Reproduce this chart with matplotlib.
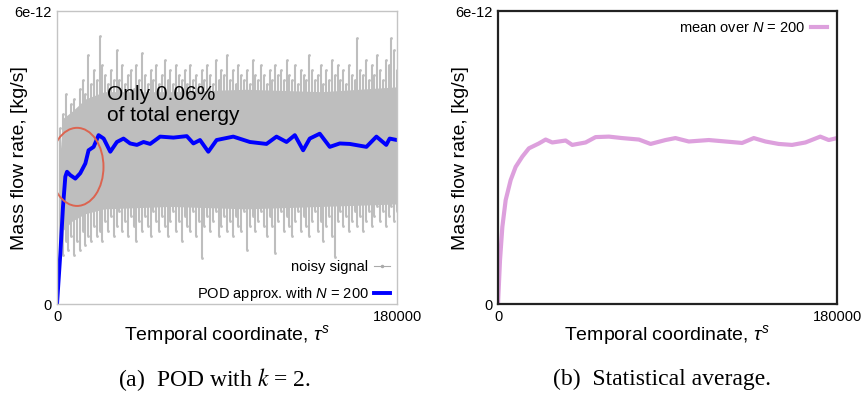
import numpy as np
import matplotlib
matplotlib.use('Agg')
import matplotlib.pyplot as plt
from matplotlib.patches import Ellipse
from matplotlib.lines import Line2D

plt.rcParams['font.family'] = ['Liberation Sans', 'DejaVu Sans']
plt.rcParams['mathtext.fontset'] = 'custom'
plt.rcParams['mathtext.rm'] = 'Liberation Sans'
plt.rcParams['mathtext.it'] = 'Liberation Sans:italic'

# noisy signal (units of 1e-12 kg/s), one sample every 1500
noisy_hi = [2.0, 3.6, 3.9, 4.3, 3.8, 4.1, 4.2, 3.9, 4.4, 4.6, 4.3,
            5.1, 4.5, 4.8, 4.6, 5.5, 4.9, 4.7, 4.5, 4.8, 4.6,
            5.2, 4.6, 4.9, 4.5, 4.7, 4.8, 4.4, 4.9, 4.6, 5.15,
            4.7, 4.5, 4.8, 4.6, 4.9, 4.5, 4.7, 5.0, 4.6, 4.8,
            4.5, 4.9, 4.7, 4.6, 4.8, 4.5, 4.9, 4.6, 4.7, 4.5,
            4.8, 4.6, 4.9, 4.7, 4.5, 5.0, 4.6, 4.8, 4.7, 5.1,
            4.6, 4.8, 4.5, 4.9, 4.7, 4.6, 4.8, 4.5, 5.0, 4.7,
            4.6, 4.9, 4.7, 4.5, 4.8, 4.6, 4.9, 4.7, 4.8, 4.6,
            5.0, 4.7, 4.6, 4.9, 4.5, 4.8, 4.7, 4.6, 5.1, 4.8,
            4.6, 4.7, 4.9, 4.5, 4.8, 4.6, 5.0, 4.7, 4.9, 4.6,
            4.8, 4.5, 4.9, 4.7, 4.6, 5.45, 4.8, 4.7, 5.0, 4.6,
            4.9, 4.7, 5.1, 4.8, 4.6, 5.0, 4.9, 5.45, 5.2, 4.8]
noisy_lo = [0.5, 1.2, 1.0, 1.3, 1.1, 1.4, 1.0, 1.3, 1.1, 1.5, 1.2,
            1.4, 1.3, 1.6, 1.4, 1.5, 1.3, 1.7, 1.5, 1.8, 1.4,
            1.6, 1.9, 1.5, 1.7, 1.4, 1.8, 1.6, 1.3, 1.7, 1.5,
            1.8, 1.6, 1.4, 1.9, 1.7, 1.5, 1.8, 1.6, 1.4, 1.7,
            1.9, 1.5, 1.7, 1.3, 1.8, 1.6, 1.5, 1.9, 1.4, 1.7,
            0.95, 1.6, 1.8, 1.5, 1.7, 1.9, 1.4, 1.6, 1.8, 1.5,
            1.7, 1.4, 1.8, 1.6, 1.5, 1.9, 1.1, 1.6, 1.8, 1.5,
            1.7, 1.9, 1.6, 1.4, 1.8, 1.6, 1.05, 1.7, 1.9, 1.5,
            1.8, 1.6, 1.4, 1.7, 1.9, 1.5, 1.8, 1.6, 1.4, 1.7,
            1.9, 1.5, 1.7, 1.3, 1.6, 1.8, 1.4, 0.97, 1.7, 1.9,
            1.6, 1.8, 1.5, 1.7, 1.9, 1.6, 1.8, 1.5, 1.7, 1.9,
            1.6, 1.8, 2.0, 1.7, 1.9, 1.6, 1.8, 2.0, 1.7, 1.9]
noisy_t = np.linspace(0, 180000, len(noisy_hi))

# dense core of the noisy band
core_t = [1500, 3000, 8000, 15000, 25000, 60000, 100000, 140000, 180000]
core_lo = [1.2, 1.5, 1.7, 1.85, 1.95, 2.0, 1.95, 2.0, 2.05]
core_hi = [3.0, 3.8, 3.95, 4.2, 4.35, 4.35, 4.4, 4.35, 4.45]

# POD approximation, N = 200
pod_t = [0, 1760, 3170, 4400, 5280, 7040, 9690, 12300, 15000, 16700,
         19400, 22000, 24700, 28200, 31700, 35200, 38700, 42300, 45800, 49300,
         54600, 61600, 68700, 72200, 75700, 80100, 84500, 93300, 102100, 110900,
         116200, 121500, 125900, 130300, 133800, 139100, 144400, 149700, 155000, 163800,
         169100, 174300, 176100, 180000]
pod_v = [0, 1.04, 2.0, 2.61, 2.71, 2.64, 2.57, 2.68, 2.88, 3.15,
         3.22, 3.46, 3.39, 3.12, 3.32, 3.39, 3.29, 3.26, 3.32, 3.28,
         3.43, 3.41, 3.44, 3.29, 3.36, 3.12, 3.36, 3.43, 3.32, 3.28,
         3.43, 3.32, 3.46, 3.15, 3.39, 3.49, 3.22, 3.29, 3.28, 3.22,
         3.43, 3.26, 3.39, 3.36]

# statistical mean over N = 200
mean_t = [0, 1060, 2300, 4070, 6720, 9370, 12900, 16400, 21700, 25300,
          28800, 35900, 39400, 46500, 51800, 58900, 65900, 74800, 81000, 88900,
          94200, 101300, 111900, 120800, 129600, 135800, 142000, 149000, 156100, 163200,
          171100, 175600, 180000]
mean_v = [0, 0.90, 1.58, 2.13, 2.54, 2.81, 3.02, 3.19, 3.29, 3.37,
          3.31, 3.35, 3.26, 3.31, 3.42, 3.43, 3.40, 3.37, 3.28, 3.36,
          3.40, 3.33, 3.36, 3.33, 3.30, 3.40, 3.33, 3.28, 3.26, 3.31,
          3.43, 3.36, 3.40]

sc = 1e-12
grey = '#bebebe'
fig = plt.figure(figsize=(8.64, 3.99), dpi=100)
ax1 = fig.add_axes([0.066, 0.238, 0.3935, 0.734])
ax2 = fig.add_axes([0.5764, 0.238, 0.3924, 0.734])

# noisy signal: dense core plus spikes
ax1.fill_between(core_t, np.array(core_lo) * sc, np.array(core_hi) * sc,
                 color=grey, lw=0, zorder=1)
ax1.vlines(noisy_t[1:], np.array(noisy_lo[1:]) * sc, np.array(noisy_hi[1:]) * sc,
           color=grey, lw=1.5, zorder=1)
ax1.plot(noisy_t[1:], np.array(noisy_hi[1:]) * sc, ls='none', marker='o', ms=2.0,
         color=grey, mew=0, zorder=1)
ax1.plot(noisy_t[1:], np.array(noisy_lo[1:]) * sc, ls='none', marker='o', ms=2.0,
         color=grey, mew=0, zorder=1)

ax1.plot(pod_t, np.array(pod_v) * sc, color='#0000ff', lw=2.8, zorder=3)
ax1.add_patch(Ellipse((10600, 2.81 * sc), 28000, 1.6 * sc, fill=False,
                      edgecolor='#dc6450', lw=1.4, zorder=4))
ax1.text(0.147, 0.748, 'Only 0.06%\nof total energy', transform=ax1.transAxes,
         fontsize=15, va='top', ha='left', linespacing=1.15, zorder=5)

ax2.plot(mean_t, np.array(mean_v) * sc, color='#dda0dd', lw=3.0,
         label='mean over $\\mathit{N}$ = 200')

for ax, fc, lw in [(ax1, '#c4c4c4', 1.0), (ax2, '#222222', 1.6)]:
    ax.set_xlim(0, 180000)
    ax.set_ylim(0, 6e-12)
    ax.set_xticks([0, 180000])
    ax.set_xticklabels(['0', '180000'])
    ax.set_yticks([0, 6e-12])
    ax.set_yticklabels(['0', '6e-12'])
    ax.tick_params(length=0, labelsize=10.5, pad=4)
    for s in ax.spines.values():
        s.set_color(fc)
        s.set_linewidth(lw)
        s.set_zorder(6)
    ax.set_ylabel('Mass flow rate, [kg/s]', fontsize=14)
    ax.set_xlabel('Temporal coordinate, $\\tau^{s}$', fontsize=14)
    ax.yaxis.set_label_coords(-0.085, 0.5)
    ax.xaxis.set_label_coords(0.5, -0.065)
    ax.xaxis.label.set_va('top')

handles = [Line2D([], [], color='#aaaaaa', lw=0.8, marker='o', ms=1.5),
           Line2D([], [], color='#0000ff', lw=2.8)]
ax1.legend(handles, ['noisy signal', 'POD approx. with $\\mathit{N}$ = 200'],
           loc='lower right', bbox_to_anchor=(1.0, -0.02), frameon=False, fontsize=10.5,
           markerfirst=False, handlelength=1.1, labelspacing=0.75, borderaxespad=0.05,
           handletextpad=0.4)
ax2.legend(loc='upper right', frameon=False, fontsize=10.5, markerfirst=False,
           handlelength=1.1, borderaxespad=0.3, handletextpad=0.35)

fig.text(0.248, 0.05, '(a)  POD with $k$ = 2.', ha='center', va='center', fontsize=17,
         family='Liberation Serif', math_fontfamily='stix')
fig.text(0.766, 0.05, '(b)  Statistical average.', ha='center', va='center', fontsize=17,
         family='Liberation Serif')

fig.savefig('out.png', dpi=100)
